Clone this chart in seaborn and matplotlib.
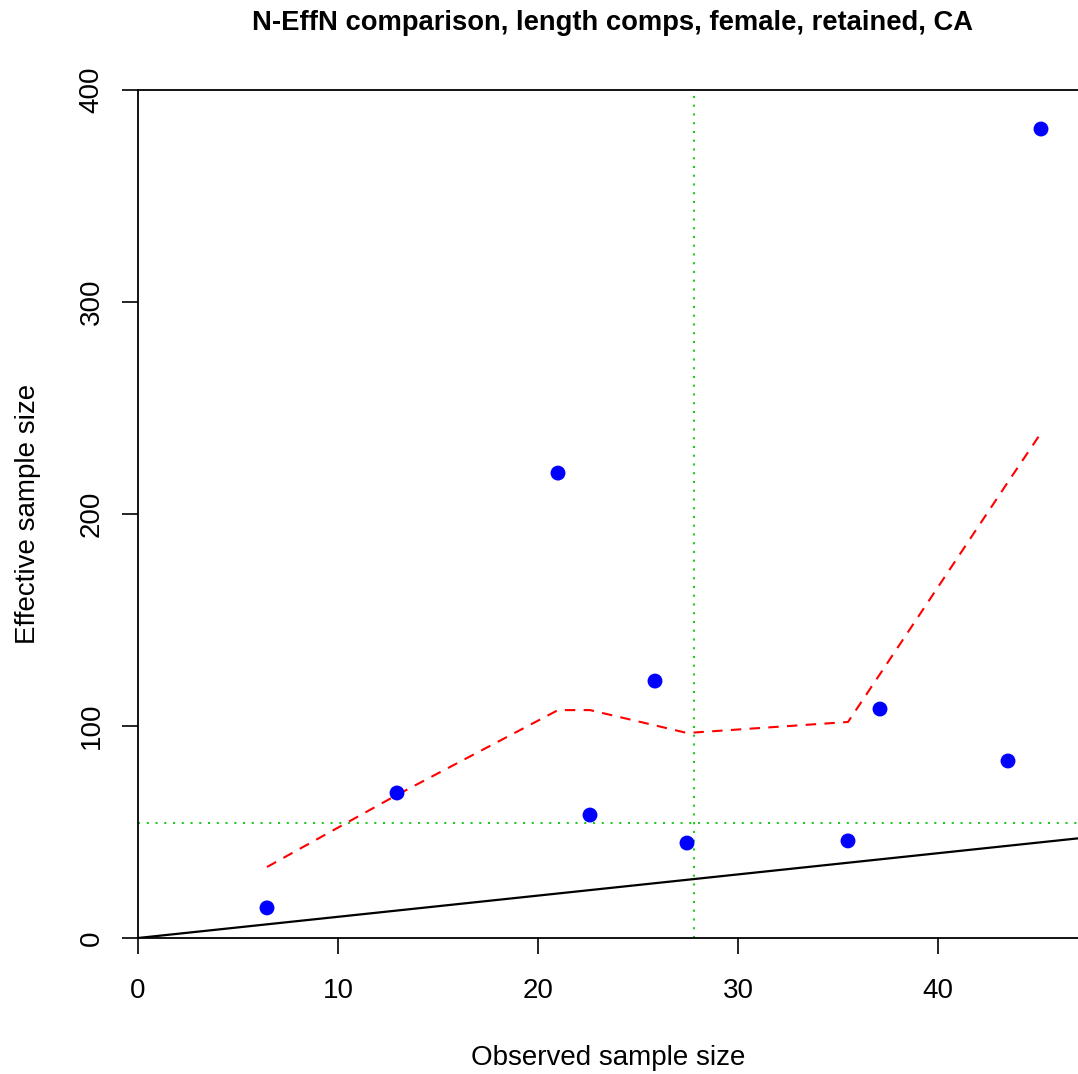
import matplotlib
matplotlib.use("Agg")
import matplotlib.pyplot as plt
import seaborn as sns
import pandas as pd

# Data
observed_n = [6.45, 12.95, 21.0, 22.6, 25.85, 27.45, 35.5, 37.1, 43.5, 45.15]
effective_n = [14.2, 68.4, 219.3, 58.0, 121.2, 44.8, 45.8, 108.0, 83.5, 381.6]
smooth_n = [33.5, 67.5, 107.5, 107.5, 100.3, 96.7, 101.9, 124.5, 215.1, 238.2]
mean_observed = 27.8
mean_effective = 54.2
x_ticks = [0, 10, 20, 30, 40]
y_ticks = [0, 100, 200, 300, 400]

df = pd.DataFrame({"obs": observed_n, "eff": effective_n, "smooth": smooth_n})

sns.set_style("white")
plt.rcParams["font.family"] = ["Liberation Sans", "DejaVu Sans"]
plt.rcParams["text.color"] = "black"
plt.rcParams["axes.labelcolor"] = "black"

fig = plt.figure(figsize=(10.78, 10.74), dpi=100)
ax = fig.add_axes([138 / 1078, 136 / 1074, 940 / 1078, 848 / 1074])

ax.axline((0, 0), slope=1, color="black", lw=1.6, zorder=2)
ax.axvline(mean_observed, color="#22c922", lw=1.5, linestyle=(0, (1, 3.2)), zorder=1)
ax.axhline(mean_effective, color="#22c922", lw=1.5, linestyle=(0, (1, 3.2)), zorder=1)

sns.lineplot(data=df, x="obs", y="smooth", ax=ax, color="red", lw=1.5,
             linestyle=(0, (5, 4)), sort=False, estimator=None, zorder=3)
sns.scatterplot(data=df, x="obs", y="eff", ax=ax, color="blue", s=115,
                edgecolor="none", zorder=4)

ax.set_xlim(0, 47)
ax.set_ylim(0, 400)
ax.set_xticks(x_ticks)
ax.set_yticks(y_ticks)
ax.set_xticklabels([str(t) for t in x_ticks])
ax.set_yticklabels([str(t) for t in y_ticks])

for side in ["left", "bottom", "top"]:
    ax.spines[side].set_visible(True)
    ax.spines[side].set_color("black")
    ax.spines[side].set_linewidth(1.3)
ax.spines["right"].set_visible(False)

ax.tick_params(axis="both", which="major", bottom=True, left=True,
               direction="out", length=11.5, width=1.2,
               color="black", labelsize=20, labelcolor="black")
ax.tick_params(axis="x", pad=17)
ax.tick_params(axis="y", pad=12.5)
plt.setp(ax.get_yticklabels(), rotation=90, va="center")

ax.set_xlabel("Observed sample size", fontsize=20, labelpad=30, color="black")
ax.set_ylabel("Effective sample size", fontsize=20, labelpad=27, color="black")
fig.text((253 + 973) / 2 / 1078, 1 - 23 / 1074,
         "N-EffN comparison, length comps, female, retained, CA",
         ha="center", va="center", fontsize=19.7, fontweight="bold", color="black")

fig.savefig("out.png", dpi=100)
